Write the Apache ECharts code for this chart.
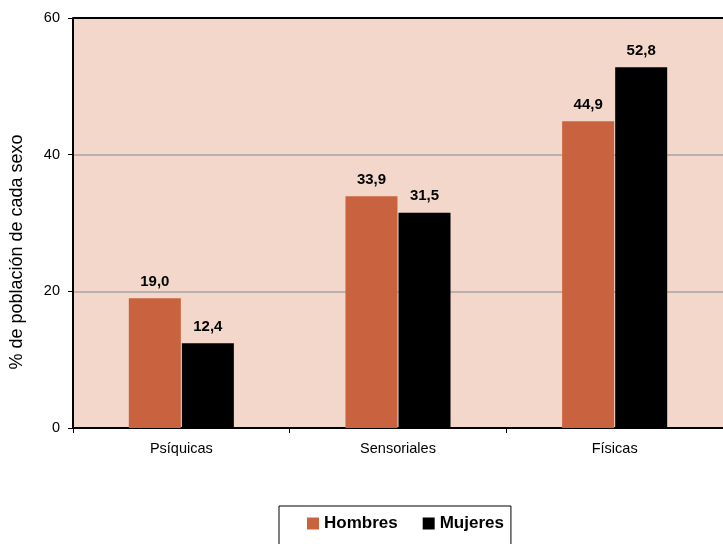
<!DOCTYPE html>
<html><head><meta charset="utf-8">
<script src="https://cdn.jsdelivr.net/npm/echarts@6/dist/echarts.min.js"></script>
<style>html,body{margin:0;padding:0;background:#fff}#c{width:723px;height:544px}</style>
</head><body><div id="c"></div>
<script>
const categories = ['Psíquicas', 'Sensoriales', 'Físicas'];
const hombres = [19.0, 33.9, 44.9];
const mujeres = [12.4, 31.5, 52.8];
const yTicks = [0, 20, 40, 60];
const yTitle = '% de población de cada sexo';

const FF = 'Liberation Sans, Arial, sans-serif';
const fmt = p => p.value.toFixed(1).replace('.', ',');
const chart = echarts.init(document.getElementById('c'), null, {renderer: 'canvas'});
const lbl = {show: true, position: 'top', distance: 9, formatter: fmt, color: '#000', fontWeight: 'bold', fontSize: 15, fontFamily: FF};
chart.setOption({
  animation: false,
  backgroundColor: '#fff',
  grid: {left: 73, right: -2, top: 18, bottom: 116, show: true, backgroundColor: '#F2D7CA', borderWidth: 0},
  legend: {
    data: ['Hombres', 'Mujeres'], left: 279, top: 506,
    padding: [9, 7, 14, 28], borderColor: '#000', borderWidth: 1,
    itemWidth: 12, itemHeight: 12, itemGap: 25, icon: 'rect',
    textStyle: {fontSize: 17, fontWeight: 'bold', color: '#000', fontFamily: FF}
  },
  graphic: [{type: 'text', x: 17, y: 252, rotation: Math.PI / 2,
    style: {text: yTitle, fontSize: 18, fontFamily: FF, fill: '#000', align: 'center', verticalAlign: 'middle'}}],
  xAxis: {
    type: 'category', data: categories,
    axisLine: {lineStyle: {color: '#000', width: 2}},
    axisTick: {show: true, length: 5, lineStyle: {color: '#000', width: 1}},
    axisLabel: {color: '#000', fontSize: 14.5, margin: 13, fontFamily: FF}
  },
  yAxis: [{
    type: 'value', min: 0, max: 60, interval: 20,
    axisLine: {show: true, lineStyle: {color: '#000', width: 2}},
    axisTick: {show: true, length: 5, lineStyle: {color: '#000'}},
    axisLabel: {color: '#000', fontSize: 14.5, margin: 13, fontFamily: FF,
      formatter: v => yTicks.includes(v) ? String(v) : ''},
    splitLine: {show: true, lineStyle: {color: '#A5A5A5', width: 1.5}}
  }],
  series: [
    {name: 'Hombres', type: 'bar', data: hombres, barWidth: 52, barGap: '2%', itemStyle: {color: '#C8623F'}, label: lbl},
    {name: 'Mujeres', type: 'bar', data: mujeres, barWidth: 52, itemStyle: {color: '#000'}, label: lbl},
    {type: 'line', data: [], markLine: {silent: true, symbol: 'none', label: {show: false},
      lineStyle: {color: '#000', width: 2, type: 'solid'}, data: [{yAxis: 60}]}}
  ]
});
</script></body></html>
